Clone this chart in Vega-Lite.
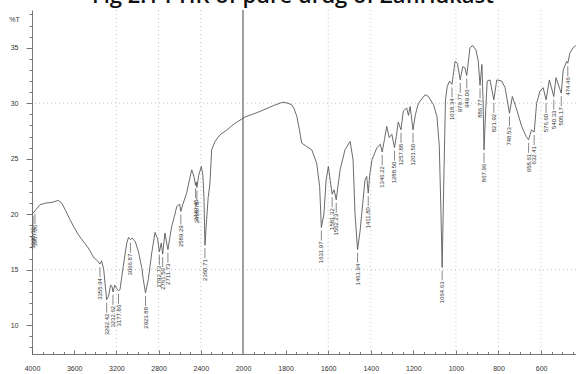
{
  "$schema": "https://vega.github.io/schema/vega-lite/v6.json",
  "width": 544,
  "height": 344,
  "autosize": {"type": "none"},
  "padding": {"left": 32, "top": 10, "right": 0, "bottom": 20},
  "background": "white",
  "config": {"view": {"stroke": null}},
  "title": {
    "text": "Fig 2.1 FTIR of pure drug of Zafirlukast",
    "font": "Open Sans",
    "fontSize": 22,
    "fontWeight": 600,
    "color": "#111111",
    "anchor": "middle",
    "frame": "group",
    "baseline": "alphabetic",
    "offset": 1,
    "dx": -11,
    "dy": 17
  },
  "datasets": {
    "spectrum": [
      {"wn": 4000, "T": 20.0}, {"wn": 3990, "T": 20.1}, {"wn": 3972, "T": 20.3}, {"wn": 3924, "T": 20.86},
      {"wn": 3870, "T": 21.0}, {"wn": 3813, "T": 21.06}, {"wn": 3751, "T": 21.24}, {"wn": 3718, "T": 21.0},
      {"wn": 3680, "T": 20.3}, {"wn": 3640, "T": 19.5}, {"wn": 3600, "T": 18.8}, {"wn": 3561, "T": 18.15},
      {"wn": 3510, "T": 17.5}, {"wn": 3466, "T": 16.95}, {"wn": 3412, "T": 16.05}, {"wn": 3380, "T": 15.8},
      {"wn": 3355.94, "T": 15.5}, {"wn": 3340, "T": 15.8}, {"wn": 3320, "T": 15.0}, {"wn": 3305, "T": 13.5},
      {"wn": 3292.42, "T": 12.3}, {"wn": 3275, "T": 12.6}, {"wn": 3255, "T": 13.6}, {"wn": 3242, "T": 13.5},
      {"wn": 3232.62, "T": 13.0}, {"wn": 3215, "T": 13.6}, {"wn": 3197, "T": 13.3}, {"wn": 3180, "T": 13.1},
      {"wn": 3166, "T": 13.2}, {"wn": 3135, "T": 15.3}, {"wn": 3102, "T": 17.4}, {"wn": 3085, "T": 17.9},
      {"wn": 3066.87, "T": 17.7}, {"wn": 3050, "T": 17.85}, {"wn": 3020, "T": 17.5}, {"wn": 2992, "T": 16.65},
      {"wn": 2960, "T": 15.2}, {"wn": 2945, "T": 14.1}, {"wn": 2923.88, "T": 12.9}, {"wn": 2898, "T": 14.1},
      {"wn": 2865, "T": 16.5}, {"wn": 2834, "T": 18.36}, {"wn": 2810, "T": 17.8}, {"wn": 2792.73, "T": 16.6},
      {"wn": 2775, "T": 17.4}, {"wn": 2761.5, "T": 16.4}, {"wn": 2740, "T": 18.3}, {"wn": 2711.73, "T": 16.8},
      {"wn": 2695, "T": 17.8}, {"wn": 2676, "T": 18.9}, {"wn": 2650, "T": 19.8}, {"wn": 2628, "T": 20.7},
      {"wn": 2600, "T": 20.9}, {"wn": 2589.29, "T": 20.25}, {"wn": 2570, "T": 20.9}, {"wn": 2534, "T": 21.9},
      {"wn": 2510, "T": 23.0}, {"wn": 2486, "T": 24.0}, {"wn": 2465, "T": 23.4}, {"wn": 2449.45, "T": 22.6},
      {"wn": 2443, "T": 22.9}, {"wn": 2436.78, "T": 22.4}, {"wn": 2420, "T": 23.5}, {"wn": 2395, "T": 24.3},
      {"wn": 2380, "T": 23.5}, {"wn": 2370, "T": 21.5}, {"wn": 2360.71, "T": 17.2}, {"wn": 2345, "T": 19.5},
      {"wn": 2330, "T": 21.5}, {"wn": 2313, "T": 22.8}, {"wn": 2297, "T": 25.8}, {"wn": 2265, "T": 26.56},
      {"wn": 2218, "T": 27.16}, {"wn": 2150, "T": 27.6}, {"wn": 2095, "T": 28.06}, {"wn": 2040, "T": 28.4},
      {"wn": 1991, "T": 28.75}, {"wn": 1920, "T": 29.26}, {"wn": 1859, "T": 29.77}, {"wn": 1812, "T": 30.1},
      {"wn": 1790, "T": 30.0}, {"wn": 1771, "T": 29.86}, {"wn": 1760, "T": 29.5}, {"wn": 1747, "T": 28.8},
      {"wn": 1735, "T": 27.6}, {"wn": 1724, "T": 26.4}, {"wn": 1701, "T": 26.1}, {"wn": 1677, "T": 25.8},
      {"wn": 1654, "T": 24.6}, {"wn": 1640, "T": 22.5}, {"wn": 1631.97, "T": 18.8}, {"wn": 1620, "T": 20.0},
      {"wn": 1610, "T": 23.0}, {"wn": 1599, "T": 24.3}, {"wn": 1590, "T": 23.0}, {"wn": 1581.32, "T": 21.8},
      {"wn": 1572, "T": 22.2}, {"wn": 1562.23, "T": 21.3}, {"wn": 1544, "T": 24.0}, {"wn": 1521, "T": 25.8},
      {"wn": 1497, "T": 26.56}, {"wn": 1483, "T": 24.9}, {"wn": 1474, "T": 20.1}, {"wn": 1461.94, "T": 16.8},
      {"wn": 1450, "T": 18.5}, {"wn": 1442, "T": 20.1}, {"wn": 1427, "T": 23.1}, {"wn": 1419, "T": 23.4},
      {"wn": 1411.8, "T": 21.9}, {"wn": 1405, "T": 23.5}, {"wn": 1394, "T": 24.9}, {"wn": 1371, "T": 26.0},
      {"wn": 1355, "T": 26.3}, {"wn": 1346.22, "T": 25.6}, {"wn": 1335, "T": 26.8}, {"wn": 1325, "T": 27.9},
      {"wn": 1313, "T": 26.9}, {"wn": 1301, "T": 27.2}, {"wn": 1288.5, "T": 26.0}, {"wn": 1280, "T": 27.0},
      {"wn": 1271, "T": 28.3}, {"wn": 1257.88, "T": 27.6}, {"wn": 1247, "T": 29.3}, {"wn": 1231, "T": 29.57},
      {"wn": 1223, "T": 28.9}, {"wn": 1215, "T": 29.7}, {"wn": 1201.5, "T": 27.6}, {"wn": 1190, "T": 29.0},
      {"wn": 1176, "T": 30.0}, {"wn": 1144, "T": 30.77}, {"wn": 1129, "T": 30.6}, {"wn": 1105, "T": 29.86},
      {"wn": 1089, "T": 28.8}, {"wn": 1078, "T": 26.1}, {"wn": 1070, "T": 20.0}, {"wn": 1064.63, "T": 15.2},
      {"wn": 1058, "T": 22.0}, {"wn": 1049, "T": 30.3}, {"wn": 1041, "T": 31.5}, {"wn": 1030, "T": 32.0},
      {"wn": 1018.34, "T": 31.7}, {"wn": 1004, "T": 33.77}, {"wn": 993, "T": 33.6}, {"wn": 979.77, "T": 32.1},
      {"wn": 968, "T": 33.3}, {"wn": 958, "T": 33.2}, {"wn": 949.06, "T": 32.5}, {"wn": 934, "T": 35.0},
      {"wn": 921, "T": 35.2}, {"wn": 906, "T": 34.8}, {"wn": 895, "T": 33.8}, {"wn": 886.77, "T": 31.6},
      {"wn": 878, "T": 33.5}, {"wn": 872, "T": 30.0}, {"wn": 867.96, "T": 25.8}, {"wn": 860, "T": 29.5},
      {"wn": 853, "T": 32.0}, {"wn": 840, "T": 32.1}, {"wn": 821.92, "T": 30.3}, {"wn": 808, "T": 32.1},
      {"wn": 785, "T": 32.0}, {"wn": 769, "T": 31.4}, {"wn": 748.53, "T": 29.1}, {"wn": 735, "T": 30.6},
      {"wn": 714, "T": 29.4}, {"wn": 691, "T": 27.9}, {"wn": 670, "T": 27.0}, {"wn": 658.61, "T": 26.7},
      {"wn": 645, "T": 27.6}, {"wn": 632.41, "T": 27.4}, {"wn": 621, "T": 30.0}, {"wn": 605, "T": 31.1},
      {"wn": 590, "T": 31.4}, {"wn": 576.6, "T": 30.3}, {"wn": 561, "T": 32.1}, {"wn": 540.33, "T": 30.6},
      {"wn": 530, "T": 32.3}, {"wn": 505.17, "T": 30.9}, {"wn": 496, "T": 33.0}, {"wn": 480, "T": 33.77},
      {"wn": 474.46, "T": 33.6}, {"wn": 465, "T": 34.5}, {"wn": 450, "T": 35.0}, {"wn": 437, "T": 35.2}
    ],
    "peaks": [
      {"wn": 3990, "T": 20.1, "label": "3990.32"},
      {"wn": 3972, "T": 20.3, "label": "3967.06"},
      {"wn": 3355.94, "T": 15.5, "label": "3355.94"},
      {"wn": 3292.42, "T": 12.3, "label": "3292.42"},
      {"wn": 3232.62, "T": 13.0, "label": "3232.62"},
      {"wn": 3180, "T": 13.1, "label": "3177.86"},
      {"wn": 3066.87, "T": 17.7, "label": "3066.87"},
      {"wn": 2923.88, "T": 12.9, "label": "2923.88"},
      {"wn": 2792.73, "T": 16.6, "label": "2792.73"},
      {"wn": 2761.5, "T": 16.4, "label": "2761.50"},
      {"wn": 2711.73, "T": 16.8, "label": "2711.73"},
      {"wn": 2589.29, "T": 20.25, "label": "2589.29"},
      {"wn": 2449.45, "T": 22.6, "label": "2449.45"},
      {"wn": 2436.78, "T": 22.4, "label": "2436.78"},
      {"wn": 2360.71, "T": 17.2, "label": "2360.71"},
      {"wn": 1631.97, "T": 18.8, "label": "1631.97"},
      {"wn": 1581.32, "T": 21.8, "label": "1581.32"},
      {"wn": 1562.23, "T": 21.3, "label": "1562.23"},
      {"wn": 1461.94, "T": 16.8, "label": "1461.94"},
      {"wn": 1411.8, "T": 21.9, "label": "1411.80"},
      {"wn": 1346.22, "T": 25.6, "label": "1346.22"},
      {"wn": 1288.5, "T": 26.0, "label": "1288.50"},
      {"wn": 1257.88, "T": 27.6, "label": "1257.88"},
      {"wn": 1201.5, "T": 27.6, "label": "1201.50"},
      {"wn": 1064.63, "T": 15.2, "label": "1064.63"},
      {"wn": 1018.34, "T": 31.7, "label": "1018.34"},
      {"wn": 979.77, "T": 32.1, "label": "979.77"},
      {"wn": 949.06, "T": 32.5, "label": "949.06"},
      {"wn": 886.77, "T": 31.6, "label": "886.77"},
      {"wn": 867.96, "T": 25.8, "label": "867.96"},
      {"wn": 821.92, "T": 30.3, "label": "821.92"},
      {"wn": 748.53, "T": 29.1, "label": "748.53"},
      {"wn": 658.61, "T": 26.7, "label": "658.61"},
      {"wn": 632.41, "T": 27.4, "label": "632.41"},
      {"wn": 576.6, "T": 30.3, "label": "576.60"},
      {"wn": 540.33, "T": 30.6, "label": "540.33"},
      {"wn": 505.17, "T": 30.9, "label": "505.17"},
      {"wn": 474.46, "T": 33.6, "label": "474.46"}
    ],
    "gridX": [
      {"wn": 3200}, {"wn": 2800}, {"wn": 2400}, {"wn": 1600}, {"wn": 1400}, {"wn": 1000}, {"wn": 800}, {"wn": 600}
    ],
    "gridY": [{"T": 30}, {"T": 15}]
  },
  "resolve": {"axis": {"x": "independent", "y": "independent"}},
  "layer": [
    {
      "data": {"name": "gridX"},
      "mark": {"type": "rule", "color": "#c4c4c4", "strokeWidth": 1, "strokeDash": [1, 3]},
      "encoding": {
        "x": {
          "field": "wn", "type": "quantitative",
          "scale": {"domain": [4000, 2000, 436], "range": [0, 211, 544], "nice": false, "zero": false},
          "axis": {
            "orient": "bottom",
            "values": [3900, 3800, 3700, 3500, 3400, 3300, 3100, 3000, 2900, 2700, 2600, 2500, 2300, 2200, 2100, 1950, 1900, 1850, 1750, 1700, 1650, 1550, 1500, 1450, 1350, 1300, 1250, 1150, 1100, 1050, 950, 900, 850, 750, 700, 650, 550, 500, 450],
            "labels": false, "domain": false, "grid": false, "title": null,
            "tickSize": -2.5, "tickColor": "#555555", "tickWidth": 0.8
          }
        }
      }
    },
    {
      "data": {"name": "gridY"},
      "mark": {"type": "rule", "color": "#c4c4c4", "strokeWidth": 1, "strokeDash": [1, 3]},
      "encoding": {
        "y": {
          "field": "T", "type": "quantitative",
          "scale": {"domain": [7.4, 38.4], "nice": false, "zero": false},
          "axis": {
            "orient": "left",
            "values": [8, 9, 11, 12, 13, 14, 16, 17, 18, 19, 21, 22, 23, 24, 26, 27, 28, 29, 31, 32, 33, 34, 36, 37, 38],
            "labels": false, "domain": false, "grid": false, "title": null,
            "tickSize": 3, "tickColor": "#555555", "tickWidth": 0.8
          }
        }
      }
    },
    {
      "data": {"values": [{}]},
      "mark": {"type": "rule", "color": "#a0a0a0", "strokeWidth": 2},
      "encoding": {
        "x": {"datum": 2000, "type": "quantitative", "axis": null}
      }
    },
    {
      "data": {"name": "spectrum"},
      "mark": {"type": "line", "color": "#5a5a5a", "strokeWidth": 0.9, "interpolate": "linear"},
      "encoding": {
        "x": {
          "field": "wn", "type": "quantitative",
          "axis": {
            "orient": "bottom",
            "values": [4000, 3600, 3200, 2800, 2400, 2000, 1800, 1600, 1400, 1200, 1000, 800, 600],
            "format": "d",
            "title": null, "grid": false,
            "domainColor": "#555555", "domainWidth": 0.8,
            "tickSize": -4, "tickColor": "#555555", "tickWidth": 0.8,
            "labelFont": "Liberation Sans", "labelFontSize": 7, "labelColor": "#333333",
            "labelPadding": 14, "labelFlush": false
          }
        },
        "y": {
          "field": "T", "type": "quantitative",
          "axis": {
            "orient": "left",
            "values": [10, 15, 20, 25, 30, 35],
            "grid": false,
            "domainColor": "#555555", "domainWidth": 0.8,
            "tickSize": 6, "tickColor": "#555555", "tickWidth": 0.8,
            "labelFont": "Liberation Sans", "labelFontSize": 7, "labelColor": "#333333",
            "labelPadding": 8,
            "title": "%T", "titleFont": "Liberation Sans", "titleFontSize": 7, "titleFontWeight": "normal",
            "titleColor": "#333333", "titleAngle": 0, "titleAlign": "center", "titleBaseline": "middle",
            "titleX": -18, "titleY": 9
          }
        }
      }
    },
    {
      "data": {"name": "peaks"},
      "mark": {"type": "rule", "color": "#555555", "strokeWidth": 0.7, "yOffset": 3, "y2Offset": 13},
      "encoding": {
        "x": {"field": "wn", "type": "quantitative", "axis": null},
        "y": {"field": "T", "type": "quantitative", "axis": null},
        "y2": {"field": "T"}
      }
    },
    {
      "data": {"name": "peaks"},
      "mark": {
        "type": "text", "angle": 270, "align": "right", "baseline": "middle", "dx": -14,
        "font": "Liberation Sans", "fontSize": 6, "color": "#333333"
      },
      "encoding": {
        "x": {"field": "wn", "type": "quantitative", "axis": null},
        "y": {"field": "T", "type": "quantitative", "axis": null},
        "text": {"field": "label"}
      }
    }
  ]
}
